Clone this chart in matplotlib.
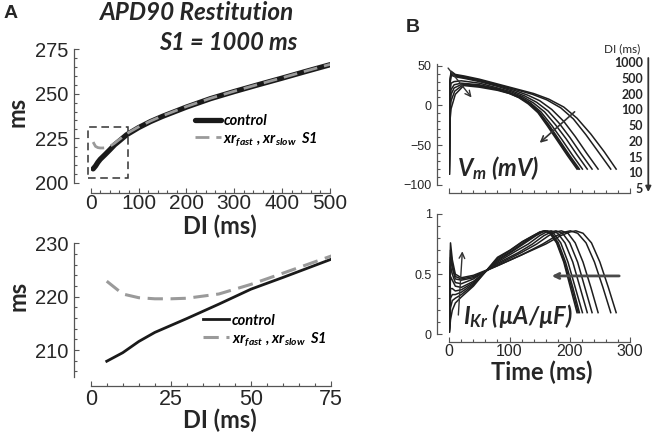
import numpy as np
import matplotlib
matplotlib.use('Agg')
import matplotlib.pyplot as plt
from matplotlib.patches import Rectangle
from matplotlib.ticker import MultipleLocator

# tick labels in an Arial-like face, everything else in Lato
plt.rcParams['font.family'] = ['Liberation Sans', 'DejaVu Sans']
plt.rcParams['mathtext.fontset'] = 'custom'
plt.rcParams['mathtext.it'] = 'Lato:italic:bold'
plt.rcParams['mathtext.rm'] = 'Lato:bold'
plt.rcParams['mathtext.bf'] = 'Lato:bold'

# ---- Panel A: APD90 restitution ----
di_ms = [5, 10, 15, 20, 25, 30, 40, 50, 60, 75, 100, 125, 150, 200, 250, 300, 350, 400, 450, 500]
apd_control = [207.9, 209.5, 211.6, 213.3, 214.6, 215.9, 218.6, 221.4, 223.6, 227.0,
               231.0, 234.4, 237.3, 242.5, 247.2, 251.2, 255.0, 258.7, 262.5, 266.2]
apd_xr_s1 = [222.9, 220.5, 219.8, 219.6, 219.6, 219.7, 220.5, 222.3, 224.4, 227.6,
             231.4, 234.7, 237.6, 242.8, 247.4, 251.4, 255.2, 258.9, 262.7, 266.4]

# ---- Panel B: traces for each DI (ms) ----
trace_di = ['1000', '500', '200', '100', '50', '20', '15', '10', '5']

vm_time = [
    [0, 1, 3, 10, 25, 50, 80, 110, 140, 165, 190, 212, 235, 257, 277],
    [0, 1, 3, 10, 25, 50, 80, 110, 138, 162, 185, 206, 227, 248, 268],
    [0, 1, 3, 10, 25, 50, 80, 108, 130, 150, 170, 190, 209, 228, 247],
    [0, 1, 3, 10, 25, 50, 80, 105, 125, 145, 164, 182, 200, 219, 237],
    [0, 1, 3, 8, 20, 50, 80, 103, 122, 140, 158, 176, 194, 212, 229],
    [0, 1, 3, 8, 20, 50, 80, 100, 118, 135, 152, 170, 187, 204, 221],
    [0, 1, 3, 8, 22, 50, 80, 100, 117, 133, 149, 166, 183, 200, 216],
    [0, 1, 3, 9, 23, 50, 80, 100, 116, 132, 148, 164, 181, 198, 214],
    [0, 1, 3, 10, 24, 50, 80, 100, 115, 131, 147, 163, 180, 196, 212],
]
vm_mv = [
    [-86, 30, 43, 39, 37, 33, 27, 21, 15, 8, -2, -16, -36, -58, -80],
    [-86, 30, 42, 38, 36, 32, 26, 20, 14, 7, -3, -17, -37, -59, -80],
    [-86, 28, 40, 37, 35, 31, 25, 19, 13, 6, -5, -20, -39, -60, -80],
    [-86, 25, 38, 36, 34, 30, 24, 18, 12, 4, -7, -22, -40, -61, -80],
    [-86, 15, 28, 30, 31, 28, 22, 17, 11, 3, -8, -24, -42, -62, -80],
    [-86, 5, 20, 26, 28, 26, 21, 16, 11, 3, -8, -25, -43, -62, -80],
    [-86, 0, 14, 22, 27, 25, 20, 16, 10, 3, -8, -25, -44, -63, -80],
    [-86, -8, 6, 18, 26, 24, 20, 15, 10, 3, -8, -25, -44, -63, -80],
    [-86, -20, -4, 14, 25, 23, 19, 15, 10, 2, -9, -26, -45, -63, -80],
]

ikr_time = [
    [0, 1, 2, 5, 10, 20, 40, 80, 120, 160, 185, 200, 210, 222, 236, 250, 264, 277],
    [0, 1, 2, 5, 10, 20, 40, 80, 120, 155, 178, 192, 201, 213, 227, 241, 255, 268],
    [0, 1, 2, 5, 10, 20, 40, 80, 120, 145, 165, 177, 186, 197, 209, 222, 235, 247],
    [0, 1, 2, 5, 10, 20, 40, 80, 115, 138, 157, 169, 177, 188, 200, 213, 225, 237],
    [0, 1, 2, 5, 10, 20, 40, 80, 110, 131, 150, 161, 169, 180, 192, 205, 217, 229],
    [0, 1, 2, 5, 10, 20, 40, 80, 105, 126, 144, 155, 163, 173, 185, 197, 209, 221],
    [0, 1, 2, 5, 10, 20, 40, 80, 103, 123, 141, 152, 160, 170, 181, 193, 205, 216],
    [0, 1, 2, 5, 10, 20, 40, 80, 102, 122, 140, 151, 159, 168, 179, 191, 203, 214],
    [0, 1, 2, 5, 10, 20, 40, 80, 101, 121, 139, 150, 158, 167, 178, 190, 201, 212],
]
ikr_val = [
    [0.02, 0.50, 0.76, 0.62, 0.50, 0.47, 0.49, 0.57, 0.66, 0.75, 0.82, 0.85, 0.86, 0.84, 0.76, 0.60, 0.39, 0.18],
    [0.02, 0.45, 0.70, 0.58, 0.48, 0.46, 0.48, 0.57, 0.66, 0.75, 0.82, 0.85, 0.86, 0.84, 0.76, 0.60, 0.39, 0.18],
    [0.02, 0.40, 0.64, 0.55, 0.46, 0.45, 0.47, 0.58, 0.68, 0.75, 0.82, 0.85, 0.86, 0.84, 0.76, 0.60, 0.39, 0.18],
    [0.02, 0.35, 0.57, 0.50, 0.43, 0.42, 0.46, 0.59, 0.68, 0.75, 0.82, 0.85, 0.86, 0.84, 0.76, 0.60, 0.39, 0.18],
    [0.02, 0.28, 0.48, 0.45, 0.40, 0.39, 0.44, 0.60, 0.69, 0.75, 0.82, 0.85, 0.86, 0.84, 0.76, 0.60, 0.39, 0.18],
    [0.02, 0.20, 0.38, 0.38, 0.36, 0.37, 0.43, 0.61, 0.69, 0.76, 0.82, 0.85, 0.86, 0.84, 0.76, 0.60, 0.39, 0.18],
    [0.02, 0.15, 0.30, 0.33, 0.33, 0.35, 0.42, 0.62, 0.69, 0.76, 0.82, 0.85, 0.86, 0.84, 0.76, 0.60, 0.39, 0.18],
    [0.02, 0.10, 0.22, 0.28, 0.30, 0.33, 0.41, 0.63, 0.70, 0.77, 0.82, 0.85, 0.86, 0.84, 0.76, 0.60, 0.39, 0.18],
    [0.02, 0.06, 0.12, 0.20, 0.26, 0.31, 0.40, 0.64, 0.70, 0.77, 0.82, 0.85, 0.86, 0.84, 0.76, 0.60, 0.39, 0.18],
]

LABEL_FONT = 'Lato'
AX_COLOR = '#555555'
TEXT_COLOR = '#262626'
GRAY = '#9a9a9a'


def style_axis(ax, left_off, bottom_off, tick_size, x_tick_size=None, x_pad=2):
    """Matlab-like axes: detached spines, inward ticks, minor ticks"""
    for side in ('top', 'right'):
        ax.spines[side].set_visible(False)
    ax.spines['left'].set_position(('outward', left_off))
    ax.spines['bottom'].set_position(('outward', bottom_off))
    for side in ('left', 'bottom'):
        ax.spines[side].set_color(AX_COLOR)
        ax.spines[side].set_linewidth(0.9)
    ax.tick_params(which='both', direction='in', color=AX_COLOR, width=0.8)
    ax.tick_params(which='major', length=3.8)
    ax.tick_params(which='minor', length=2.0)
    ax.tick_params(axis='y', labelsize=tick_size, labelcolor=TEXT_COLOR, pad=4)
    ax.tick_params(axis='x', labelsize=x_tick_size or tick_size, labelcolor=TEXT_COLOR,
                   pad=x_pad)
    ax.patch.set_alpha(0)


fig = plt.figure(figsize=(6.56, 4.36), dpi=100)

legend_labels = ['control', r'$xr_{fast}$ , $xr_{slow}$  S1']
leg_font = dict(family=LABEL_FONT, size=10.5, weight='bold', style='italic')
label_font = dict(family=LABEL_FONT, size=17, weight='bold', color=TEXT_COLOR)

# ---- A, top: full restitution ----
ax1 = fig.add_axes([0.1383, 0.5803, 0.3648, 0.3073])
ax1.plot(di_ms, apd_control, color='#1a1a1a', lw=3.8, solid_capstyle='round',
         label=legend_labels[0])
ax1.plot(di_ms, apd_xr_s1, color=GRAY, lw=2.0, dashes=(5, 2.5), label=legend_labels[1])
ax1.add_patch(Rectangle((-5, 203), 83, 28.5, fill=False, ls=(0, (5, 3)), lw=1.1,
                        ec='#333333', clip_on=False))
ax1.set_xlim(0, 500)
ax1.set_ylim(200, 275)
ax1.xaxis.set_major_locator(MultipleLocator(100))
ax1.xaxis.set_minor_locator(MultipleLocator(20))
ax1.yaxis.set_major_locator(MultipleLocator(25))
ax1.yaxis.set_minor_locator(MultipleLocator(5))
style_axis(ax1, 12, 7.2, 14.5, 15, x_pad=1)
ax1.set_xlabel('DI (ms)', **label_font)
ax1.xaxis.set_label_coords(0.54, -0.325)
ax1.xaxis.label.set_va('center')
ax1.set_ylabel('ms', **label_font)
ax1.yaxis.set_label_coords(-0.306, 0.53)
ax1.yaxis.label.set_va('center')
ax1.legend(loc='center left', bbox_to_anchor=(0.435, 0.39), frameon=False,
           handlelength=1.8, handletextpad=0.15, labelspacing=0.15, borderpad=0,
           borderaxespad=0, prop=leg_font)

# ---- A, bottom: zoom on short DI ----
ax2 = fig.add_axes([0.1383, 0.136, 0.3663, 0.306])
ax2.plot(di_ms, apd_control, color='#1a1a1a', lw=2.0, label=legend_labels[0])
ax2.plot(di_ms, apd_xr_s1, color=GRAY, lw=2.2, dashes=(5, 2.5), label=legend_labels[1])
ax2.set_xlim(0, 75)
ax2.set_ylim(205, 230)
ax2.xaxis.set_major_locator(MultipleLocator(25))
ax2.xaxis.set_minor_locator(MultipleLocator(5))
ax2.yaxis.set_major_locator(MultipleLocator(10))
ax2.yaxis.set_minor_locator(MultipleLocator(2))
style_axis(ax2, 12, 6.7, 14.5, 15.5)
ax2.set_xlabel('DI (ms)', **label_font)
ax2.xaxis.set_label_coords(0.538, -0.325)
ax2.xaxis.label.set_va('center')
ax2.set_ylabel('ms', **label_font)
ax2.yaxis.set_label_coords(-0.3025, 0.605)
ax2.yaxis.label.set_va('center')
ax2.legend(loc='center left', bbox_to_anchor=(0.468, 0.345), frameon=False,
           handlelength=1.8, handletextpad=0.15, labelspacing=0.15, borderpad=0,
           borderaxespad=0, prop=leg_font)

# ---- B, top: membrane potential ----
ax3 = fig.add_axes([0.6849, 0.5757, 0.2755, 0.2773])
for t, v in zip(vm_time, vm_mv):
    ax3.plot(t, v, color='#1e1e1e', lw=1.1)
ax3.set_xlim(0, 300)
ax3.set_ylim(-100, 52)
ax3.xaxis.set_major_locator(MultipleLocator(100))
ax3.xaxis.set_minor_locator(MultipleLocator(20))
ax3.yaxis.set_major_locator(MultipleLocator(50))
ax3.yaxis.set_minor_locator(MultipleLocator(10))
style_axis(ax3, 9, 5.5, 9)
ax3.tick_params(axis='x', labelbottom=False)
ax3.annotate('', xy=(37, 10), xytext=(-2, 47),
             arrowprops=dict(arrowstyle='->', lw=1.0, color='#333333', shrinkA=0, shrinkB=0))
ax3.annotate('', xy=(150, -47), xytext=(208, -8),
             arrowprops=dict(arrowstyle='->', lw=1.2, color='#333333', shrinkA=0, shrinkB=0))
ax3.text(0.043, 0.142, r'$V_m$ (mV)', transform=ax3.transAxes, ha='left', va='center',
         family=LABEL_FONT, size=17, weight='bold', style='italic', color=TEXT_COLOR)

# ---- B, bottom: IKr ----
ax4 = fig.add_axes([0.6849, 0.2333, 0.2755, 0.2759])
for t, i_kr in zip(ikr_time, ikr_val):
    ax4.plot(t, i_kr, color='#1e1e1e', lw=1.1)
ax4.set_xlim(0, 300)
ax4.set_ylim(0, 1)
ax4.xaxis.set_major_locator(MultipleLocator(100))
ax4.xaxis.set_minor_locator(MultipleLocator(20))
ax4.yaxis.set_major_locator(MultipleLocator(0.5))
ax4.yaxis.set_minor_locator(MultipleLocator(0.1))
style_axis(ax4, 8.7, 5.3, 9, 11.5)
ax4.yaxis.set_major_formatter(plt.FuncFormatter(lambda v, p: f'{v:g}'))
ax4.set_xlabel('Time (ms)', **label_font)
ax4.xaxis.set_label_coords(0.513, -0.318)
ax4.xaxis.label.set_va('center')
ax4.annotate('', xy=(21.7, 0.69), xytext=(15, 0.16),
             arrowprops=dict(arrowstyle='->', lw=1.0, color='#333333', shrinkA=0, shrinkB=0))
ax4.annotate('', xy=(170, 0.485), xytext=(282, 0.485),
             arrowprops=dict(arrowstyle='->', lw=2.0, color='#4a4a4a', shrinkA=0, shrinkB=0,
                             mutation_scale=9))
ax4.text(0.076, 0.152, r'$I_{Kr}$ (µA/µF)', transform=ax4.transAxes, ha='left', va='center',
         family=LABEL_FONT, size=17, weight='bold', style='italic', color=TEXT_COLOR)

# ---- titles, panel letters, DI key ----
W, H = 656.0, 436.0
fig.text(10.5 / W, 1 - 13.5 / H, 'A', size=14, weight='bold',
         ha='center', va='center', color=TEXT_COLOR)
fig.text(413 / W, 1 - 27.5 / H, 'B', size=14, weight='bold',
         ha='center', va='center', color=TEXT_COLOR)
fig.text(197 / W, 1 - 13 / H, 'APD90 Restitution', family=LABEL_FONT, size=17.5,
         weight='bold', style='italic', ha='center', va='center', color=TEXT_COLOR)
fig.text(228 / W, 1 - 42 / H, 'S1 = 1000 ms', family=LABEL_FONT, size=17,
         weight='bold', style='italic', ha='center', va='center', color=TEXT_COLOR)

fig.text(621.7 / W, 1 - 48.3 / H, 'DI (ms)', family=LABEL_FONT, size=8.5,
         ha='center', va='center', color=TEXT_COLOR)
for k, lab in enumerate(trace_di):
    fig.text(643 / W, 1 - (63.3 + k * 15.7) / H, lab, family=LABEL_FONT, size=9,
             weight='bold', ha='right', va='center', color=TEXT_COLOR)
ax4.annotate('', xy=(648.3 / W, 1 - 192 / H), xytext=(648.3 / W, 1 - 58 / H),
             xycoords='figure fraction', textcoords='figure fraction',
             arrowprops=dict(arrowstyle='-|>', lw=1.3, color='#333333', shrinkA=0, shrinkB=0,
                             mutation_scale=8))

fig.savefig('out.png', dpi=100)
